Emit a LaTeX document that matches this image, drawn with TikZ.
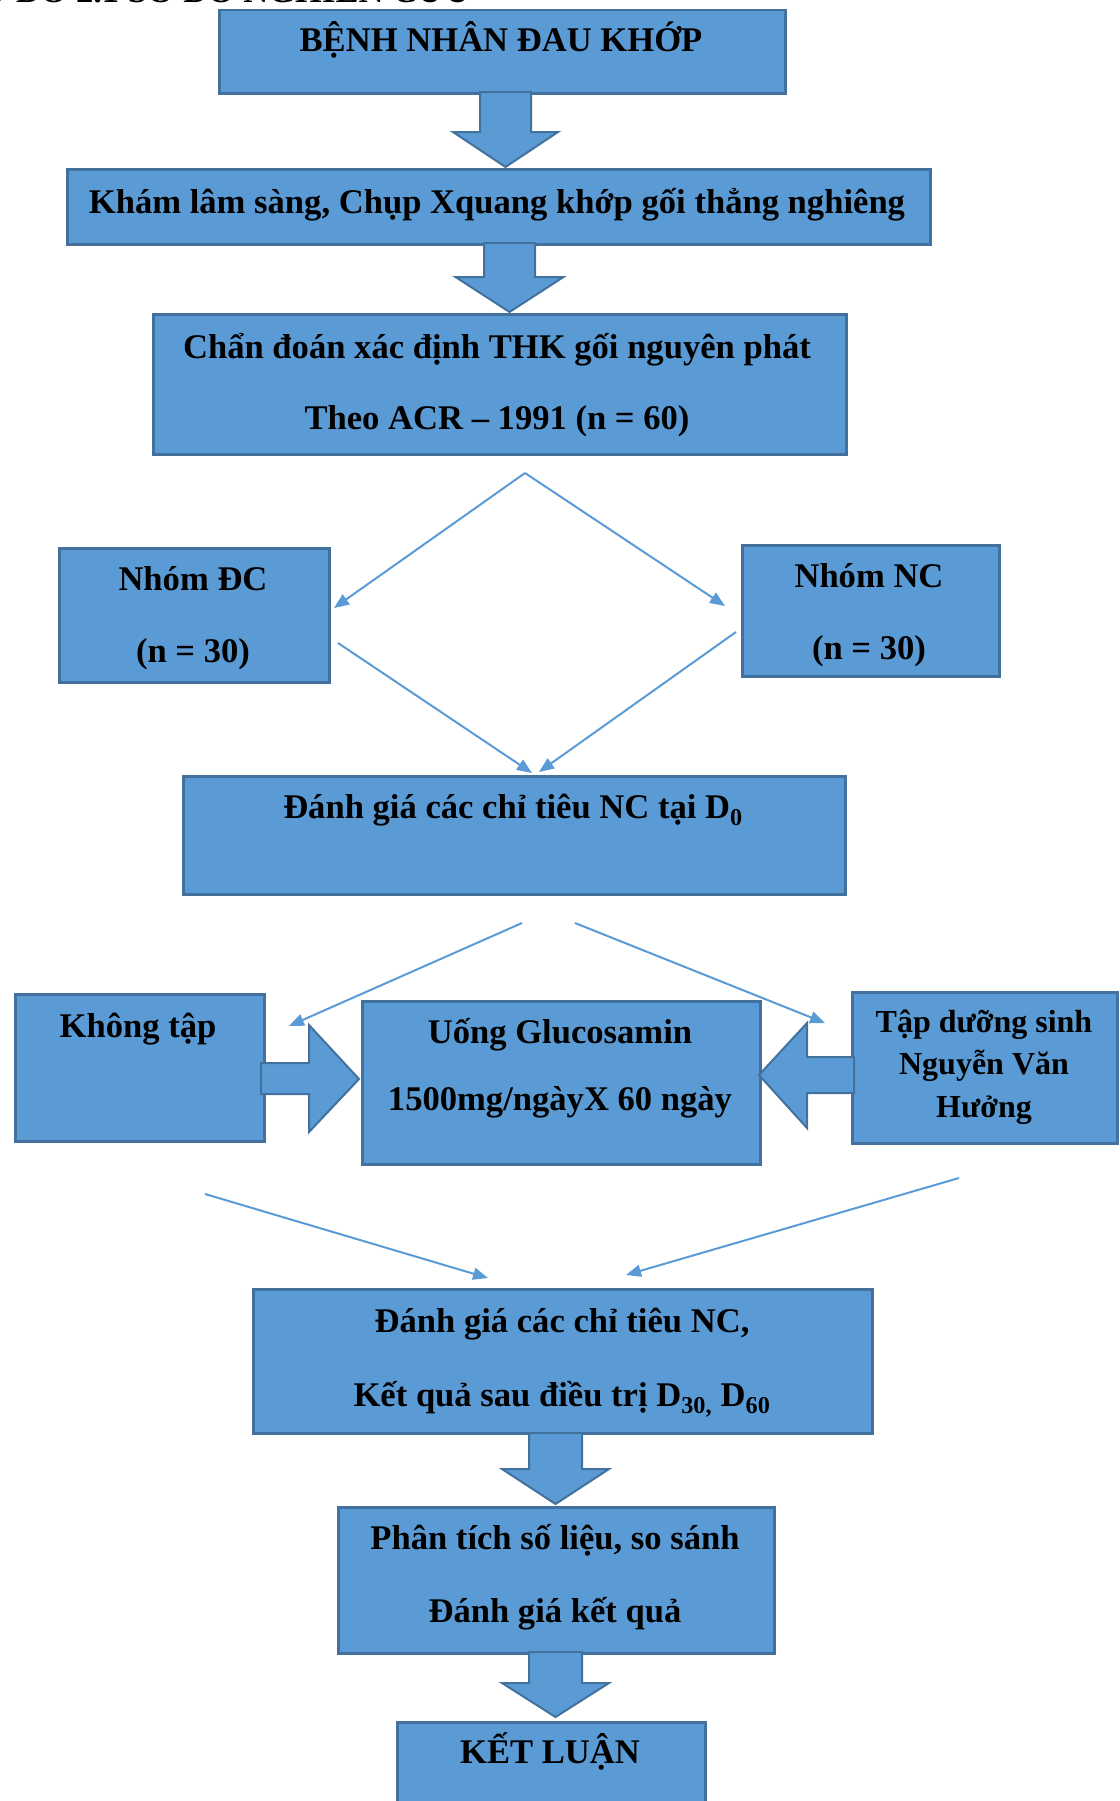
\documentclass[tikz,border=0pt]{standalone}
\usepackage{fontspec}
\setmainfont{Liberation Serif}
\usetikzlibrary{arrows.meta}
\definecolor{boxfill}{HTML}{5B9BD5}
\definecolor{boxline}{HTML}{41719C}
\newcommand\blkdown[6]{% cx, w, hw, y0, y1, y2
  \draw[blockarrow] (#1-#2,#4) -- (#1+#2,#4) -- (#1+#2,#5) -- (#1+#3,#5) -- (#1,#6) -- (#1-#3,#5) -- (#1-#2,#5) -- cycle;}
\begin{document}
\begin{tikzpicture}[x=1pt,y=-1pt,
  box/.style={draw=boxline, line width=2.5pt, fill=boxfill, inner sep=0pt, anchor=north west},
  lbl/.style={font=\fontsize{34.6}{40}\selectfont\bfseries, inner sep=0pt, anchor=base},
  small/.style={font=\fontsize{32}{38}\selectfont\bfseries},
  conn/.style={draw=boxfill, line width=2pt, -{Triangle[length=15pt,width=12pt]}},
  blockarrow/.style={draw=boxline, line width=2pt, fill=boxfill, line join=miter}]
\useasboundingbox (0,0) rectangle (1119,1801);
\clip (0,0) rectangle (1119,1801);

% cut-off title at the top
\node[lbl, anchor=base east] (title) at (470,3) {SƠ ĐỒ 2.1 SƠ ĐỒ NGHIÊN CỨU};

% boxes
\node[box, minimum width=566pt, minimum height=83pt]  (b1) at (218,9) {};
\node[box, minimum width=863pt, minimum height=75pt]  (b2) at (66,168) {};
\node[box, minimum width=693pt, minimum height=140pt] (b3) at (152,313) {};
\node[box, minimum width=270pt, minimum height=134pt] (dc) at (58,547) {};
\node[box, minimum width=257pt, minimum height=131pt] (nc) at (741,544) {};
\node[box, minimum width=662pt, minimum height=118pt] (d0) at (182,775) {};
\node[box, minimum width=249pt, minimum height=147pt] (kt) at (14,993) {};
\node[box, minimum width=398pt, minimum height=163pt] (ug) at (361,1000) {};
\node[box, minimum width=265pt, minimum height=151pt] (td) at (851,991) {};
\node[box, minimum width=619pt, minimum height=144pt] (ev) at (252,1288) {};
\node[box, minimum width=436pt, minimum height=146pt] (an) at (337,1506) {};
\node[box, minimum width=308pt, minimum height=120pt] (kl) at (396,1721) {};

% texts
\node[lbl] (t1)  at (501,52)   {BỆNH NHÂN ĐAU KHỚP};
\node[lbl] (t2)  at (497,213)  {Khám lâm sàng, Chụp Xquang khớp gối thẳng nghiêng};
\node[lbl] (t3a) at (497,358)  {Chẩn đoán xác định THK gối nguyên phát};
\node[lbl] (t3b) at (497,429)  {Theo ACR – 1991 (n = 60)};
\node[lbl] (tdc1) at (193,590) {Nhóm ĐC};
\node[lbl] (tdc2) at (193,662) {(n = 30)};
\node[lbl] (tnc1) at (869,587) {Nhóm NC};
\node[lbl] (tnc2) at (869,659) {(n = 30)};
\node[lbl] (td0) at (513,818)  {Đánh giá các chỉ tiêu NC tại D\textsubscript{0}};
\node[lbl] (tkt) at (138,1037) {Không tập};
\node[lbl] (tug1) at (560,1043) {Uống Glucosamin};
\node[lbl] (tug2) at (560,1110) {1500mg/ngàyX 60 ngày};
\node[lbl, small] (ttd1) at (984,1032) {Tập dưỡng sinh};
\node[lbl, small] (ttd2) at (984,1074) {Nguyễn Văn};
\node[lbl, small] (ttd3) at (984,1117) {Hưởng};
\node[lbl] (tev1) at (562,1332) {Đánh giá các chỉ tiêu NC,};
\node[lbl] (tev2) at (562,1406) {Kết quả sau điều trị D\textsubscript{30,} D\textsubscript{60}};
\node[lbl] (tan1) at (555,1549) {Phân tích số liệu, so sánh};
\node[lbl] (tan2) at (555,1622) {Đánh giá kết quả};
\node[lbl] (tkl) at (550,1763)  {KẾT LUẬN};

% block arrows
\blkdown{505.5}{25.5}{52.5}{92}{132}{167}
\blkdown{509.5}{25.5}{54}{243}{277}{312}
\blkdown{555.5}{26.5}{53.5}{1433}{1469}{1504}
\blkdown{555.5}{26.5}{53.5}{1652}{1683}{1717}
\draw[blockarrow] (261,1063) -- (309,1063) -- (309,1025) -- (359,1079) -- (309,1132) -- (309,1094) -- (261,1094) -- cycle;
\draw[blockarrow] (854,1057) -- (807,1057) -- (807,1023) -- (759,1075) -- (807,1128) -- (807,1093) -- (854,1093) -- cycle;

% thin connectors
\coordinate (s1) at (525,473);
\coordinate (e1) at (334,608);
\coordinate (e2) at (725,606);
\draw[conn] (s1) -- (e1);
\draw[conn] (s1) -- (e2);
\coordinate (s2) at (338,643);
\coordinate (e3) at (532,773);
\coordinate (s3) at (736,632);
\coordinate (e4) at (539,772);
\draw[conn] (s2) -- (e3);
\draw[conn] (s3) -- (e4);
\coordinate (s4) at (522,923);
\coordinate (e5) at (289,1026);
\coordinate (s5) at (575,923);
\coordinate (e6) at (825,1023);
\draw[conn] (s4) -- (e5);
\draw[conn] (s5) -- (e6);
\coordinate (s6) at (205,1194);
\coordinate (e7) at (488,1278);
\coordinate (s7) at (959,1178);
\coordinate (e8) at (626,1275);
\draw[conn] (s6) -- (e7);
\draw[conn] (s7) -- (e8);
\end{tikzpicture}
\end{document}
